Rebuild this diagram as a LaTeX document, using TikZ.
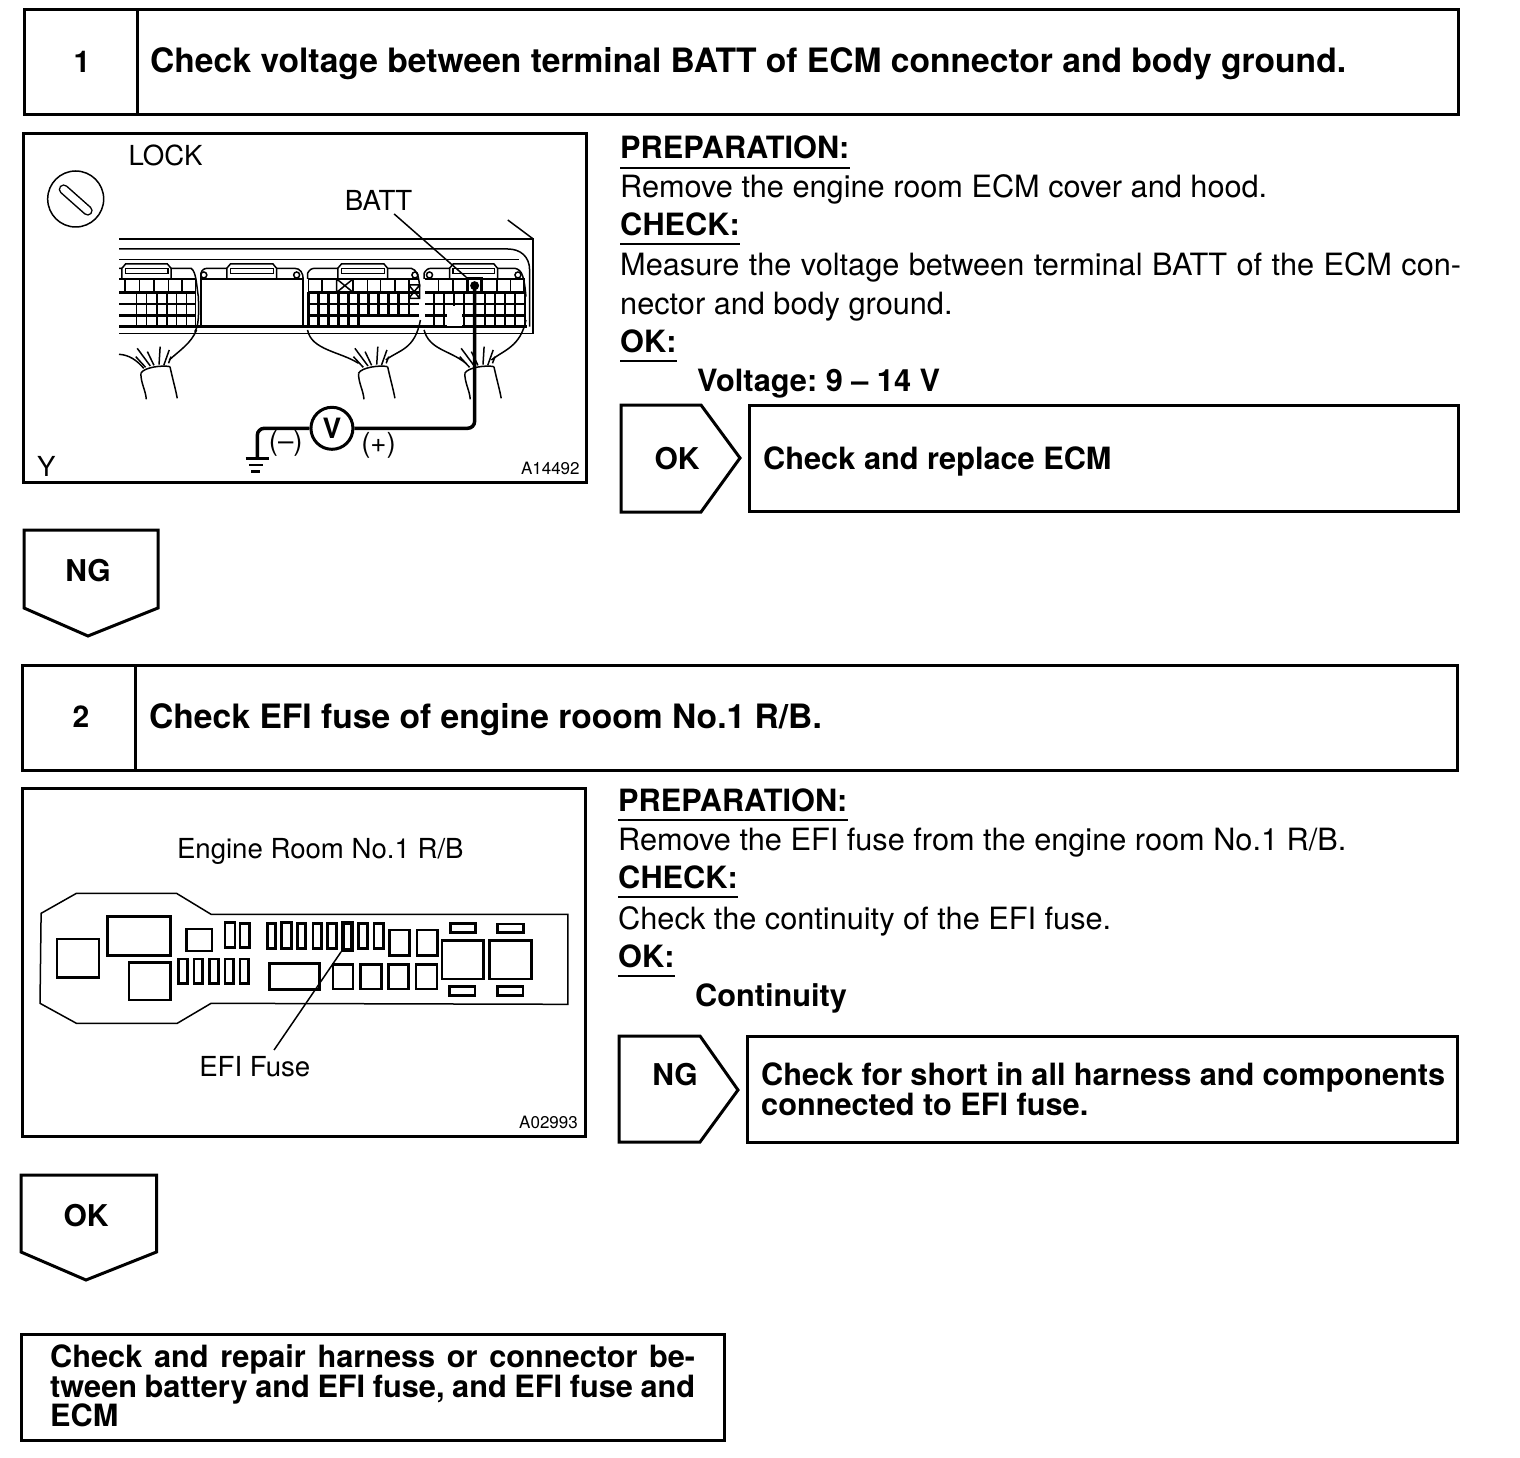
\documentclass[tikz,border=0pt]{standalone}
\usepackage{fontspec}
\setmainfont{TeX Gyre Heros}
\usetikzlibrary{
  positioning,
  calc
}
\frenchspacing

\begin{document}
\begin{tikzpicture}[
    x=1pt,y=-1pt,
    caixa/.style={draw,line width=3pt,inner sep=0pt},
    titulo/.style={anchor=base west,inner sep=0pt,font=\fontsize{33.6}{33.6}\selectfont\bfseries},
    numero/.style={inner sep=0pt,font=\fontsize{30}{30}\selectfont\bfseries},
    corpo/.style={anchor=base west,inner sep=0pt,font=\fontsize{30.7}{30.7}\selectfont},
    negrito/.style={anchor=base west,inner sep=0pt,font=\fontsize{30.7}{30.7}\selectfont\bfseries},
    rotulo/.style={inner sep=0pt,font=\fontsize{27.6}{27.6}\selectfont},
    codigo/.style={anchor=base east,inner sep=0pt,font=\fontsize{17}{17}\selectfont},
    regua/.style={line width=1.5pt},
    fino/.style={line width=1.5pt},
    grosso/.style={line width=2.5pt},
    fio/.style={line width=3.5pt,rounded corners=7pt}
    ]
    \useasboundingbox (0,0) rectangle (1520,1458);

    % step 1
    \node[caixa,minimum width=1434pt,minimum height=105pt] (box1) at (741.5,62.5) {};
    \draw[caixa] (137,10)--(137,115);
    \node[numero] (num1) at (82,62) {1};
    \node[titulo] (title1) at (150,73) {Check voltage between terminal BATT of ECM connector and body ground.};

    \node[caixa,minimum width=563pt,minimum height=348pt] (pic1) at (304.5,308) {};

    \node[negrito] (prep1) at (620,159) {PREPARATION:};
    \node[corpo] (text1a) at (620,197) {Remove the engine room ECM cover and hood.};
    \node[negrito] (check1) at (620,235) {CHECK:};
    \node[corpo] (text1b) at (620,275) {\makebox[841pt][s]{Measure the voltage between terminal BATT of the ECM con-}};
    \node[corpo] (text1c) at (620,314) {nector and body ground.};
    \node[negrito] (ok1) at (620,352) {OK:};
    \node[negrito] (volt1) at (697,391) {Voltage: 9 – 14 V};

    \draw[caixa] (621,405)--(701,405)--(740,458)--(701,512)--(621,512)--cycle;
    \node[numero] (oktag) at (677,459) {OK};
    \node[caixa,minimum width=709pt,minimum height=106pt] (box1b) at (1103.5,458.5) {};
    \node[negrito] (text1d) at (763,469) {Check and replace ECM};

    \draw[caixa] (24,530)--(158,530)--(158,608)--(88,636)--(24,608)--cycle;
    \node[numero] (ngtag) at (88,571) {NG};

    % drawing of ECM connectors
    \begin{scope}[shift={(20,130)},x=0.364pt,y=-0.3333pt]
      \node[rotulo] (lock) at (400,75) {LOCK};
      \node[rotulo] (batt) at (985,210) {BATT};
      \node[rotulo,anchor=center] (y) at (72,1010) {Y};
      \node[codigo] (a1) at (1538,1033) {A14492};

      \draw[fino] (153,207) circle (28pt);
      \draw[line width=1.5pt,double=white,double distance=7pt,line cap=round] (120,178)--(186,242);

      % case
      \draw[fino] (272,327)--(1410,327)--(1410,610)--(272,610);
      \draw[fino] (1340,270)--(1410,327);
      \draw[fino] (272,357)--(1340,357) .. controls (1375,357) and (1400,380) .. (1400,420)--(1400,590);
      \draw[grosso] (272,590)--(1392,590);
      \draw[fino] (272,388)--(1370,388);

      % shells
      \draw[fino] (272,415)--(470,415) .. controls (485,425) and (485,470) .. (490,500) .. controls (492,560) and (490,590) .. (480,605);
      \draw[fino] (497,447)--(497,430) .. controls (500,420) and (505,415) .. (515,415)--(755,415) .. controls (770,415) and (778,430) .. (778,447);
      \draw[fino] (790,447)--(790,430) .. controls (795,420) and (800,415) .. (810,415)--(1075,415) .. controls (1090,420) and (1095,435) .. (1098,470);
      \draw[fino] (1110,447)--(1110,430) .. controls (1115,420) and (1120,415) .. (1130,415)--(1360,415) .. controls (1380,420) and (1385,440) .. (1390,500);
      \foreach \x/\X in {280/415,568/705,873/1010,1180/1312}
        {
        \draw[fino,fill=white] (\x,447)--(\x,415)--(\x+10,402)--(\X-10,402)--(\X,415)--(\X,447);
        \draw[fino] (\x+10,415) rectangle (\X-8,430);
        }
      \foreach \x in {505,760,1085,1125,1368}
        \draw[fino] (\x,435) circle (3pt);

      % cavities
      \draw[grosso,fill=white] (497,447) rectangle (778,590);
      \foreach \y in {447,487,522,557}
        {
        \draw[grosso] (272,\y)--(482,\y);
        \draw[grosso] (792,\y)--(1097,\y);
        \draw[grosso] (1112,\y)--(1388,\y);
        }
      \foreach \x in {288,328,368,408,445,482}
        \draw[fino] (\x,447)--(\x,487);
      \foreach \x in {320,348,376,404,430,457,482}
        \draw[fino] (\x,487)--(\x,590);
      \foreach \x in {792,830,870,915,955,990,1030,1068}
        \draw[fino] (\x,447)--(\x,487);
      \foreach \x in {792,820,847,875,902,930}
        \draw[grosso] (\x,487)--(\x,590);
      \foreach \x in {958,985,1013,1040,1068}
        \draw[grosso] (\x,487)--(\x,557);
      \foreach \x in {1150,1190,1310,1348,1385}
        \draw[fino] (\x,447)--(\x,487);
      \foreach \x in {1137,1165,1192,1220,1278,1305,1332,1360,1387}
        \draw[grosso] (\x,487)--(\x,590);
      \draw[fill=white,draw=none] (1172,527) rectangle (1215,588);
      \draw[fino] (870,447)--(915,487) (915,447)--(870,487) (870,447) rectangle (915,487);
      \draw[fino] (1068,465)--(1098,505) (1098,465)--(1068,505) (1068,465) rectangle (1098,505);

      % harness
      \foreach \dx in {0,598,890}
        {
        \begin{scope}[xshift=\dx*0.364pt]
          \draw[fino] (332,730) .. controls (340,712) and (390,705) .. (412,710);
          \draw[fino] (332,730) .. controls (332,760) and (345,780) .. (347,808);
          \draw[fino] (412,710) .. controls (420,750) and (428,780) .. (432,805);
          \draw[fino] (345,712)--(318,680) (358,708)--(322,655) (368,706)--(350,665)
                      (382,704)--(385,650) (395,706)--(410,660) (408,700)--(415,680);
        \end{scope}
        }
      \draw[fino] (272,673) .. controls (300,675) and (320,690) .. (340,715);
      \draw[fino] (410,690) .. controls (440,660) and (470,640) .. (485,600);
      \draw[fino] (790,600) .. controls (800,660) and (880,665) .. (930,700);
      \draw[fino] (1005,690) .. controls (1040,660) and (1085,660) .. (1100,570);
      \draw[fino] (1110,600) .. controls (1125,660) and (1180,660) .. (1225,700);
      \draw[fino] (1295,690) .. controls (1330,660) and (1375,650) .. (1390,570);

      % terminal and meter
      \node[draw,line width=3pt,minimum size=14pt,inner sep=0pt] (term) at (1249,467) {};
      \fill (term.center) circle (4.5pt);
      \coordinate (gnd) at (652,985);
      \coordinate (lead1) at (1028,252);
      \node[draw,circle,line width=3pt,minimum size=42pt,inner sep=0pt,font=\fontsize{28}{28}\selectfont\bfseries] (meter) at (857,895) {V};
      \draw[fio] (term.center)--(1249,895)--(meter.east);
      \draw[fio] (meter.west)--(652,895)--(gnd);
      \draw[fino] (lead1)--(term.north west);
      \draw[grosso] (620,985)--(685,985) (630,1005)--(668,1005) (635,1025)--(660,1025);
      \node[rotulo] (minus) at (730,940) {(–)};
      \node[rotulo] (plus) at (985,945) {(+)};
    \end{scope}

    % step 2
    \node[caixa,minimum width=1435pt,minimum height=105pt] (box2) at (740,717.5) {};
    \draw[caixa] (135,665)--(135,770);
    \node[numero] (num2) at (81,717) {2};
    \node[titulo] (title2) at (149,728) {Check EFI fuse of engine rooom No.1 R/B.};

    \node[caixa,minimum width=563pt,minimum height=348pt] (pic2) at (303.5,962) {};

    \node[negrito] (prep2) at (618,811) {PREPARATION:};
    \node[corpo] (text2a) at (618,850) {Remove the EFI fuse from the engine room No.1 R/B.};
    \node[negrito] (check2) at (618,888) {CHECK:};
    \node[corpo] (text2b) at (618,929) {Check the continuity of the EFI fuse.};
    \node[negrito] (ok2) at (618,967) {OK:};
    \node[negrito] (cont2) at (695,1006) {Continuity};

    \draw[caixa] (619,1036)--(700,1036)--(738,1090)--(700,1142)--(619,1142)--cycle;
    \node[numero] (ngtag2) at (675,1075) {NG};
    \node[caixa,minimum width=710pt,minimum height=106pt] (box2b) at (1102.5,1089) {};
    \node[negrito] (text2c) at (761,1085) {\makebox[684pt][s]{Check for short in all harness and components}};
    \node[negrito] (text2d) at (761,1115) {connected to EFI fuse.};

    \draw[caixa] (21,1175)--(156.5,1175)--(156.5,1252)--(86,1280)--(21,1252)--cycle;
    \node[numero] (oktag2) at (86,1216) {OK};

    % drawing of relay block
    \begin{scope}[shift={(20,785)},x=0.364pt,y=-0.3333pt]
      \node[rotulo] (room) at (825,200) {Engine Room No.1 R/B};
      \node[rotulo] (efi) at (645,845) {EFI Fuse};
      \node[codigo] (a2) at (1533,1030) {A02993};
      \coordinate (lead2) at (698,795);
      \draw[fino] (58,385)--(155,325)--(430,325)--(525,388)--(1505,388)--(1505,658)--(525,655)--(432,715)--(155,715)--(55,655)--cycle;
      \foreach \x/\y/\X/\Y in {
        102/462/217/578,240/395/413/512,300/532/413/645,457/432/527/498,
        563/413/590/488,605/415/630/488,680/415/702/490,762/415/785/490,
        805/415/828/490,845/415/870/490,930/415/955/490,973/415/998/490,
        1015/435/1070/512,1090/435/1147/512,435/522/460/595,478/522/502/595,
        520/522/545/595,563/522/587/595,605/522/628/595,860/538/915/612,
        936/538/993/612,1012/538/1067/612,1088/538/1145/612,1160/467/1273/582,
        1290/467/1405/582,1183/415/1252/442,1312/417/1383/442,1180/605/1250/632,
        1312/605/1382/632}
        \draw[grosso] (\x,\y) rectangle (\X,\Y);
      \draw[line width=3pt] (718,413) rectangle (745,490);
      \draw[line width=3pt] (685,535) rectangle (822,613);
      \node[draw,line width=4pt,minimum width=9pt,minimum height=27pt,inner sep=0pt] (fuse) at (900,454) {};
      \draw[fino] (fuse.south west)--(lead2);
    \end{scope}

    % last step
    \node[caixa,minimum width=703pt,minimum height=106pt] (box3) at (372.5,1387) {};
    \node[negrito] (text3a) at (50,1367) {\makebox[645pt][s]{Check and repair harness or connector be-}};
    \node[negrito] (text3b) at (50,1397) {\makebox[645pt][s]{tween battery and EFI fuse, and EFI fuse and}};
    \node[negrito] (text3c) at (50,1426) {ECM};

    \foreach \nome in {prep1,check1,ok1,prep2,check2,ok2}
      \draw[regua] ([yshift=-9pt]\nome.base west)--([yshift=-9pt]\nome.base east);

    \end{tikzpicture}
\end{document}
